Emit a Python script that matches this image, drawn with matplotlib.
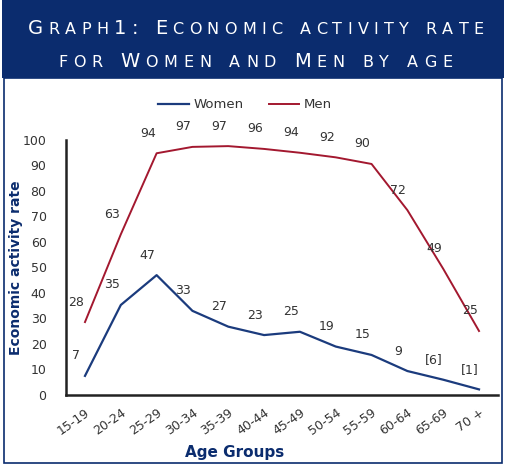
import matplotlib
matplotlib.use("Agg")
import matplotlib.pyplot as plt
from matplotlib.patches import Rectangle

# data
age_groups = ["15-19", "20-24", "25-29", "30-34", "35-39", "40-44",
              "45-49", "50-54", "55-59", "60-64", "65-69", "70 +"]
women = [7.5, 35.3, 47, 33, 26.8, 23.5, 24.8, 19, 15.7, 9.4, 6, 2.2]
men = [28.6, 63, 94.8, 97.3, 97.6, 96.5, 95, 93.2, 90.6, 72.5, 49.5, 25.1]
women_labels = ["7", "35", "47", "33", "27", "23", "25", "19", "15", "9", "[6]", "[1]"]
men_labels = ["28", "63", "94", "97", "97", "96", "94", "92", "90", "72", "49", "25"]
yticks = [0, 10, 20, 30, 40, 50, 60, 70, 80, 90, 100]

navy = "#0b2c6e"
women_c = "#1b3b7d"
men_c = "#a3182f"
txt_c = "#333333"

W, H = 506, 467
fig = plt.figure(figsize=(W / 100, H / 100), dpi=100)
fig.patch.set_facecolor("white")

# title banner and outer frame
fig.add_artist(Rectangle((2 / W, 1 - 78 / H), 502 / W, 78 / H, transform=fig.transFigure,
                         facecolor=navy, edgecolor="none", zorder=0))
fig.add_artist(Rectangle((4 / W, 4 / H), 498 / W, (H - 82) / H, transform=fig.transFigure,
                         facecolor="none", edgecolor=navy, lw=1.2, zorder=0))

ax = fig.add_axes([66 / W, 1 - 395 / H, 432 / W, 255 / H])
x = list(range(len(age_groups)))
ax.plot(x, women, color=women_c, lw=1.6, label="Women")
ax.plot(x, men, color=men_c, lw=1.4, label="Men")

for xi, v, s in zip(x, women, women_labels):
    ax.annotate(s, (xi, v), xytext=(-9, 20), textcoords="offset pixels",
                ha="center", va="center", fontsize=9, color=txt_c)
for xi, v, s in zip(x, men, men_labels):
    ax.annotate(s, (xi, v), xytext=(-9, 20), textcoords="offset pixels",
                ha="center", va="center", fontsize=9, color=txt_c)

ax.set_xlim(-0.53, 11.53)
ax.set_ylim(0, 100)
ax.set_yticks(yticks)
ax.set_xticks(x)
ax.set_xticklabels(age_groups, rotation=35, ha="right", rotation_mode="anchor")
ax.tick_params(axis="y", length=0, pad=14, labelsize=9, labelcolor=txt_c)
ax.tick_params(axis="x", length=0, pad=8, labelsize=9, labelcolor=txt_c)
for side in ["top", "right"]:
    ax.spines[side].set_visible(False)
for side in ["left", "bottom"]:
    ax.spines[side].set_color("#222222")
    ax.spines[side].set_linewidth(1.8)

ax.set_ylabel("Economic activity rate", fontsize=10, fontweight="bold", color=navy)
ax.yaxis.set_label_coords(-0.1, 0.5)
fig.text(235 / W, 1 - 452 / H, "Age Groups", ha="center", va="center",
         fontsize=11, fontweight="bold", color=navy)

fig.legend(loc="center", bbox_to_anchor=(245 / W, 1 - 105 / H), ncol=2, frameon=False,
           fontsize=9.5, handlelength=2.3, handletextpad=0.35, columnspacing=1.9,
           labelcolor=txt_c)


# small caps title, one text per letter, spread across a target width
def small_caps(line, x0, x1, base_y, big=14, small=11.5):
    fig.canvas.draw()
    r = fig.canvas.get_renderer()
    pieces = [(ch.upper(), small if ch.islower() else big) for ch in line]
    widths = []
    for ch, size in pieces:
        if ch == " ":
            widths.append(size * 0.45)
            continue
        t = fig.text(0, 0, ch, fontsize=size)
        widths.append(t.get_window_extent(r).width)
        t.remove()
    gap = (x1 - x0 - sum(widths)) / (len(pieces) - 1)
    xp = x0
    for (ch, size), w in zip(pieces, widths):
        if ch != " ":
            fig.text(xp / W, 1 - base_y / H, ch, fontsize=size, color="white",
                     va="baseline", ha="left")
        xp += w + gap


small_caps("Graph1: Economic activity rate", 28, 484, 34)
small_caps("for Women and Men by age", 58, 452, 67)

fig.savefig("out.png", dpi=100)
